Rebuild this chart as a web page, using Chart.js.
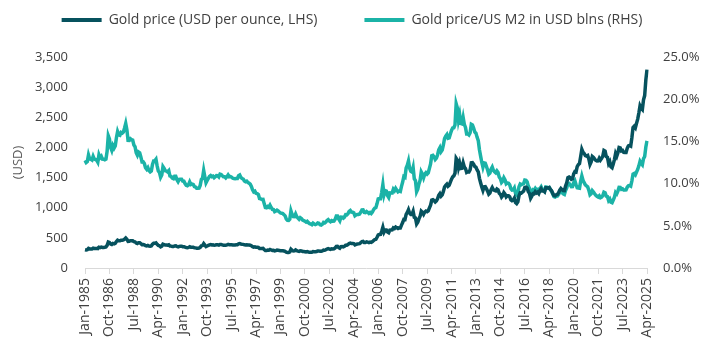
<!DOCTYPE html>
<html>
<head>
<meta charset="utf-8">
<script src="https://cdn.jsdelivr.net/npm/chart.js@4/dist/chart.umd.min.js"></script>
<style>
html,body{margin:0;padding:0;background:#ffffff;}
#wrap{width:721px;height:355px;}
</style>
</head>
<body>
<div id="wrap"><canvas id="c" width="721" height="355"></canvas></div>
<script>
// ---- categories (monthly, Jan-1985 .. Apr-2025) ----
const monthNames = ['Jan','Feb','Mar','Apr','May','Jun','Jul','Aug','Sep','Oct','Nov','Dec'];
const firstYear = 1985, lastYear = 2025, lastMonth = 4;
const categories = [];
for (let y = firstYear; y <= lastYear; y++) {
  for (let m = 0; m < 12; m++) {
    if (y === lastYear && m >= lastMonth) break;
    categories.push(monthNames[m] + '-' + y);
  }
}
const labelEvery = 21; // a tick label every 21 months

// ---- series 1: gold price, USD per ounce (LHS) ----
const goldPrice = [
 303,299,304,325,316,317,317,330,324,325,325,321,
 345,339,346,340,342,343,348,376,430,423,398,391,
 408,401,409,438,460,450,450,461,460,465,480,497,
 477,442,444,452,451,452,437,433,413,406,420,419,
 404,388,390,385,371,367,375,365,362,367,394,409,
 410,417,393,374,369,352,362,395,389,381,381,378,
 384,364,363,358,357,367,368,356,349,359,361,362,
 354,354,345,338,337,341,353,343,345,344,335,334,
 329,329,330,342,367,372,405,379,355,365,374,383,
 387,382,384,377,381,386,385,380,391,389,384,379,
 379,376,382,391,385,387,386,383,383,383,386,387,
 400,405,396,393,392,385,383,387,383,381,378,369,
 355,347,352,344,344,341,324,324,323,325,306,289,
 289,297,296,308,299,292,293,284,289,296,294,291,
 287,287,286,282,277,261,256,257,265,311,293,283,
 284,300,286,280,275,285,282,274,273,270,266,272,
 266,262,263,261,272,270,268,273,283,283,276,276,
 282,296,294,302,314,321,314,310,319,317,319,333,
 357,359,340,328,355,356,351,360,379,379,389,407,
 414,405,406,404,384,392,398,400,405,420,439,442,
 424,423,434,429,422,430,424,437,456,470,476,510,
 549,555,557,610,676,596,633,632,598,585,627,629,
 631,665,655,679,667,655,665,665,712,754,806,803,
 889,922,968,909,888,889,939,839,829,730,760,816,
 858,943,924,890,928,945,934,949,996,1043,1127,1134,
 1118,1095,1113,1148,1205,1232,1193,1215,1271,1342,1370,1391,
 1356,1372,1424,1474,1512,1529,1572,1820,1790,1665,1739,1652,
 1656,1742,1674,1650,1585,1596,1594,1630,1744,1747,1722,1684,
 1671,1627,1593,1487,1414,1343,1286,1347,1349,1316,1275,1225,
 1244,1300,1336,1299,1287,1279,1311,1296,1239,1222,1176,1201,
 1251,1227,1179,1198,1199,1182,1131,1117,1125,1159,1086,1068,
 1097,1200,1246,1243,1260,1276,1337,1341,1326,1267,1238,1157,
 1192,1234,1231,1266,1246,1260,1236,1283,1315,1280,1283,1265,
 1331,1331,1325,1335,1303,1282,1238,1202,1198,1215,1221,1250,
 1291,1320,1300,1286,1284,1359,1413,1500,1510,1495,1471,1480,
 1560,1597,1591,1683,1716,1732,1847,1968,1921,1900,1866,1858,
 1867,1808,1718,1760,1850,1834,1807,1785,1776,1777,1821,1790,
 1817,1856,1948,1937,1849,1837,1732,1765,1681,1665,1726,1798,
 1898,1855,1913,1999,1992,1943,1951,1918,1916,1916,1985,2027,
 2034,2023,2160,2331,2352,2326,2399,2470,2571,2690,2651,2630,
 2790,2860,3120,3290
];

// ---- series 2: gold price / US M2 in USD blns, % (RHS) ----
const goldToM2 = [
 12.75,12.49,12.61,13.39,12.93,12.88,12.79,13.23,12.90,12.86,12.77,12.53,
 13.42,13.08,13.24,12.90,12.88,12.81,12.89,13.82,15.68,15.30,14.29,13.93,
 14.49,14.20,14.45,15.43,16.16,15.77,15.72,16.06,15.99,16.12,16.59,17.13,
 16.39,15.12,15.11,15.31,15.20,15.16,14.58,14.38,13.65,13.36,13.75,13.65,
 13.16,12.58,12.59,12.38,11.87,11.69,11.89,11.53,11.38,11.49,12.28,12.69,
 12.69,12.88,12.10,11.49,11.31,10.76,11.03,12.01,11.80,11.52,11.49,11.38,
 11.53,10.90,10.84,10.65,10.59,10.86,10.86,10.47,10.24,10.50,10.53,10.53,
 10.29,10.28,10.01,9.79,9.75,9.86,10.20,9.90,9.95,9.90,9.64,9.60,
 9.45,9.44,9.46,9.79,10.49,10.62,11.55,10.79,10.10,10.37,10.61,10.85,
 10.96,10.83,10.89,10.70,10.81,10.96,10.94,10.80,11.12,11.07,10.93,10.80,
 10.80,10.67,10.81,11.02,10.81,10.83,10.76,10.64,10.60,10.57,10.61,10.60,
 10.93,11.02,10.73,10.61,10.54,10.31,10.22,10.29,10.14,10.05,9.93,9.66,
 9.27,9.02,9.10,8.85,8.81,8.70,8.23,8.19,8.13,8.14,7.63,7.17,
 7.14,7.28,7.20,7.44,7.17,6.95,6.93,6.67,6.74,6.85,6.76,6.64,
 6.52,6.49,6.44,6.32,6.17,5.79,5.65,5.64,5.79,6.77,6.34,6.10,
 6.09,6.40,6.08,5.92,5.78,5.96,5.87,5.68,5.63,5.54,5.43,5.53,
 5.37,5.25,5.22,5.14,5.31,5.22,5.14,5.20,5.34,5.30,5.12,5.08,
 5.17,5.40,5.34,5.45,5.64,5.74,5.58,5.48,5.61,5.55,5.56,5.77,
 6.17,6.17,5.82,5.59,6.03,6.02,5.91,6.03,6.32,6.30,6.44,6.71,
 6.81,6.63,6.61,6.54,6.19,6.29,6.35,6.35,6.40,6.61,6.87,6.88,
 6.59,6.56,6.70,6.60,6.47,6.57,6.46,6.63,6.90,7.08,7.15,7.63,
 8.19,8.24,8.23,8.97,9.89,8.68,9.17,9.11,8.58,8.35,8.91,8.90,
 8.90,9.33,9.15,9.44,9.23,9.02,9.11,9.07,9.67,10.19,10.84,10.75,
 11.85,12.19,12.70,11.82,11.46,11.38,11.92,10.57,10.36,9.05,9.35,9.96,
 10.39,11.39,11.13,10.69,11.12,11.29,11.13,11.28,11.81,12.33,13.29,13.34,
 13.17,12.86,13.02,13.39,14.01,14.27,13.78,13.99,14.58,15.35,15.62,15.81,
 15.37,15.42,15.87,16.29,16.58,16.62,16.95,19.47,18.99,17.53,18.16,17.12,
 17.07,17.83,17.02,16.66,15.89,15.89,15.77,16.02,17.02,16.94,16.59,16.11,
 15.98,15.48,15.08,14.01,13.26,12.53,11.95,12.45,12.41,12.05,11.62,11.12,
 11.26,11.71,11.97,11.58,11.41,11.29,11.51,11.32,10.77,10.57,10.13,10.29,
 10.69,10.44,9.98,10.09,10.05,9.86,9.39,9.23,9.25,9.48,8.84,8.65,
 8.86,9.63,9.94,9.86,9.94,10.00,10.42,10.39,10.21,9.70,9.43,8.76,
 9.00,9.28,9.22,9.44,9.26,9.32,9.11,9.42,9.62,9.32,9.31,9.14,
 9.60,9.57,9.50,9.54,9.28,9.10,8.76,8.47,8.42,8.51,8.52,8.70,
 8.97,9.11,8.92,8.78,8.71,9.17,9.48,10.01,10.02,9.87,9.65,9.66,
 10.13,10.34,9.88,9.51,9.48,9.46,10.30,10.90,10.40,10.11,9.85,9.73,
 9.62,9.23,8.68,8.81,9.17,9.01,8.80,8.61,8.49,8.41,8.55,8.33,
 8.41,8.57,8.98,8.92,8.52,8.47,8.00,8.17,7.80,7.74,8.05,8.40,
 8.95,8.79,9.11,9.56,9.55,9.32,9.38,9.23,9.23,9.25,9.57,9.75,
 9.78,9.70,10.33,11.13,11.20,11.05,11.37,11.68,12.10,12.63,12.39,12.23,
 12.95,13.21,14.34,15.06
];

// ---- axis ticks ----
const leftAxis = { min: 0, max: 3500, step: 500, title: '(USD)' };
const rightAxis = { min: 0, max: 25, step: 5 };
const seriesNames = ['Gold price (USD per ounce, LHS)', 'Gold price/US M2 in USD blns (RHS)'];
const seriesColors = ['#06525e', '#1bb3a7'];

Chart.defaults.font.family = "'Open Sans', 'Noto Sans', sans-serif";
Chart.defaults.font.size = 13;
Chart.defaults.color = '#404040';

const legendFix = {
  id: 'legendFix',
  beforeInit(chart) {
    const fit = chart.legend.fit;
    chart.legend.fit = function () { fit.call(this); this.height = 91; };
  }
};

new Chart(document.getElementById('c'), {
  type: 'line',
  data: {
    labels: categories,
    datasets: [
      { label: seriesNames[0], data: goldPrice, yAxisID: 'y', borderColor: seriesColors[0], backgroundColor: seriesColors[0], borderWidth: 3.5, pointRadius: 0, tension: 0, order: 0 },
      { label: seriesNames[1], data: goldToM2, yAxisID: 'y1', borderColor: seriesColors[1], backgroundColor: seriesColors[1], borderWidth: 3.5, pointRadius: 0, tension: 0, order: 1 }
    ]
  },
  options: {
    responsive: false,
    animation: false,
    devicePixelRatio: 1,
    layout: { padding: { top: -34, right: 17, bottom: 0, left: 0 } },
    plugins: {
      legend: {
        display: true,
        position: 'top',
        labels: {
          boxWidth: 40, boxHeight: 4, padding: 47, color: '#404040', font: { size: 14 },
          generateLabels(chart) {
            const items = Chart.defaults.plugins.legend.labels.generateLabels(chart);
            items.forEach(it => { it.lineWidth = 0; it.strokeStyle = 'rgba(0,0,0,0)'; });
            return items;
          }
        }
      },
      tooltip: { enabled: false }
    },
    scales: {
      x: {
        type: 'category',
        offset: false,
        grid: { display: true, drawOnChartArea: false, drawTicks: true, tickLength: 6, color: '#d9d9d9' },
        border: { display: true, color: '#d9d9d9', width: 1 },
        ticks: {
          autoSkip: false, maxRotation: 90, minRotation: 90, padding: 4, color: '#404040', font: { size: 14 },
          callback: function (val, i) { return i % labelEvery === 0 ? this.getLabelForValue(val) : null; }
        },
        afterFit(scale) { scale.height = 87; }
      },
      y: {
        position: 'left',
        min: leftAxis.min, max: leftAxis.max,
        grid: { display: false, drawTicks: false },
        border: { display: false },
        ticks: { stepSize: leftAxis.step, padding: 17, color: '#404040', font: { size: 13 }, callback: v => v.toLocaleString('en-US') },
        title: { display: true, text: leftAxis.title, color: '#595959', font: { size: 13 }, padding: { top: 10, bottom: 0 } },
        afterFit(scale) { scale.width = 85; }
      },
      y1: {
        position: 'right',
        min: rightAxis.min, max: rightAxis.max,
        grid: { display: false, drawTicks: false },
        border: { display: false },
        ticks: { stepSize: rightAxis.step, padding: 16, color: '#404040', font: { size: 13 }, callback: v => v.toFixed(1) + '%' },
        afterFit(scale) { scale.width = 57; }
      }
    }
  },
  plugins: [legendFix]
});
</script>
</body>
</html>
